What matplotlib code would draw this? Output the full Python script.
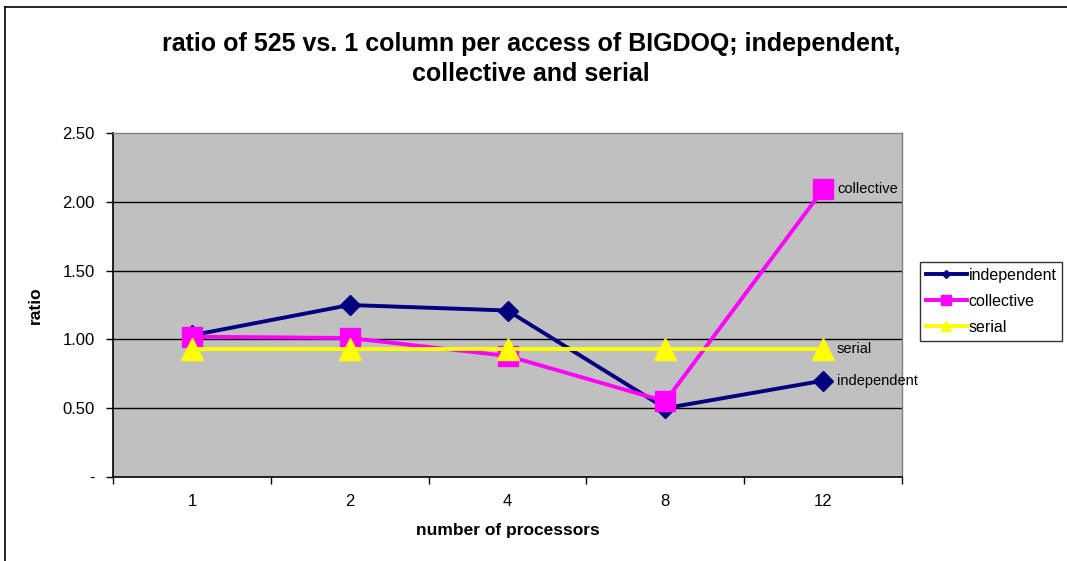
import matplotlib
matplotlib.use("Agg")
import matplotlib.pyplot as plt
from matplotlib.lines import Line2D
import numpy as np

plt.rcParams["font.family"] = ["Liberation Sans", "DejaVu Sans"]

# -----------------------------
# DATA
# -----------------------------
processors = ["1", "2", "4", "8", "12"]
independent = [1.03, 1.25, 1.21, 0.50, 0.70]
collective = [1.02, 1.01, 0.88, 0.55, 2.09]
serial = [0.93, 0.93, 0.93, 0.93, 0.93]

y_ticks = [0.0, 0.5, 1.0, 1.5, 2.0, 2.5]
y_tick_labels = ["-", "0.50", "1.00", "1.50", "2.00", "2.50"]

NAVY = "#000080"
MAGENTA = "#FF00FF"
YELLOW = "#FFFF00"

# -----------------------------
# FIGURE
# -----------------------------
W, H = 1067, 561
fig = plt.figure(figsize=(W / 100, H / 100), dpi=100)
fig.patch.set_facecolor("white")

# outer chart border (runs off the right and bottom edges)
fig.add_artist(Line2D([5 / W, 1.01], [1 - 7 / H, 1 - 7 / H], color="black", lw=1.2,
                      transform=fig.transFigure))
fig.add_artist(Line2D([5 / W, 5 / W], [-0.01, 1 - 7 / H], color="black", lw=1.2,
                      transform=fig.transFigure))

left, right, top, bottom = 113, 902, 133, 477
ax = fig.add_axes([left / W, 1 - bottom / H, (right - left) / W, (bottom - top) / H])
ax.set_facecolor("#C0C0C0")

x = np.arange(len(processors))

ax.plot(x, independent, color=NAVY, lw=2.8, marker="D", ms=10, zorder=3,
        label="independent")
ax.plot(x, collective, color=MAGENTA, lw=2.8, marker="s", ms=15, zorder=4,
        label="collective")
ax.plot(x, serial, color=YELLOW, lw=2.8, marker="^", ms=16, zorder=5,
        label="serial")

# labels on the last point of each series
last = len(processors) - 1
for vals, name in [(collective, "collective"), (serial, "serial"),
                   (independent, "independent")]:
    ax.annotate(name, (x[last], vals[last]), xytext=(10, 0), textcoords="offset points",
                va="center", ha="left", fontsize=10.5, zorder=6, annotation_clip=False)

ax.set_xlim(-0.5, len(processors) - 0.5)
ax.set_ylim(0, 2.5)

# category ticks between groups, labels centred under each group
ax.set_xticks(np.arange(-0.5, len(processors), 1.0))
ax.set_xticklabels([])
ax.set_xticks(x, minor=True)
ax.set_xticklabels(processors, minor=True, fontsize=12)
ax.tick_params(axis="x", which="major", length=5, width=1, color="black", direction="out")
ax.tick_params(axis="x", which="minor", length=0, pad=12)

ax.set_yticks(y_ticks)
ax.set_yticklabels(y_tick_labels, fontsize=12)
ax.tick_params(axis="y", length=5, width=1, color="black", direction="out", pad=8)

for yv in y_ticks[1:-1]:
    ax.axhline(yv, color="black", lw=1, zorder=1)

for side in ["left", "bottom"]:
    ax.spines[side].set_color("black")
    ax.spines[side].set_linewidth(1.2)
for side in ["top", "right"]:
    ax.spines[side].set_color("#808080")
    ax.spines[side].set_linewidth(1)

# axis titles
fig.text(508 / W, 1 - 531 / H, "number of processors", ha="center", va="center",
         fontsize=12.5, fontweight="bold")
fig.text(35 / W, 1 - 305 / H, "ratio", ha="center", va="center", rotation=90,
         fontsize=12.5, fontweight="bold")

fig.text(531 / W, 1 - 59 / H,
         "ratio of 525 vs. 1 column per access of BIGDOQ; independent,\ncollective and serial",
         ha="center", va="center", fontsize=18, fontweight="bold", linespacing=1.3)

leg = fig.legend(loc="upper left", bbox_to_anchor=(920 / W, 1 - 262 / H),
                 fontsize=11.5, frameon=True, fancybox=False, edgecolor="black",
                 markerscale=0.45, handlelength=2.6, handletextpad=0.1,
                 borderpad=0.35, labelspacing=0.7, borderaxespad=0)
leg.get_frame().set_linewidth(1)

fig.savefig("out.png", dpi=100)
